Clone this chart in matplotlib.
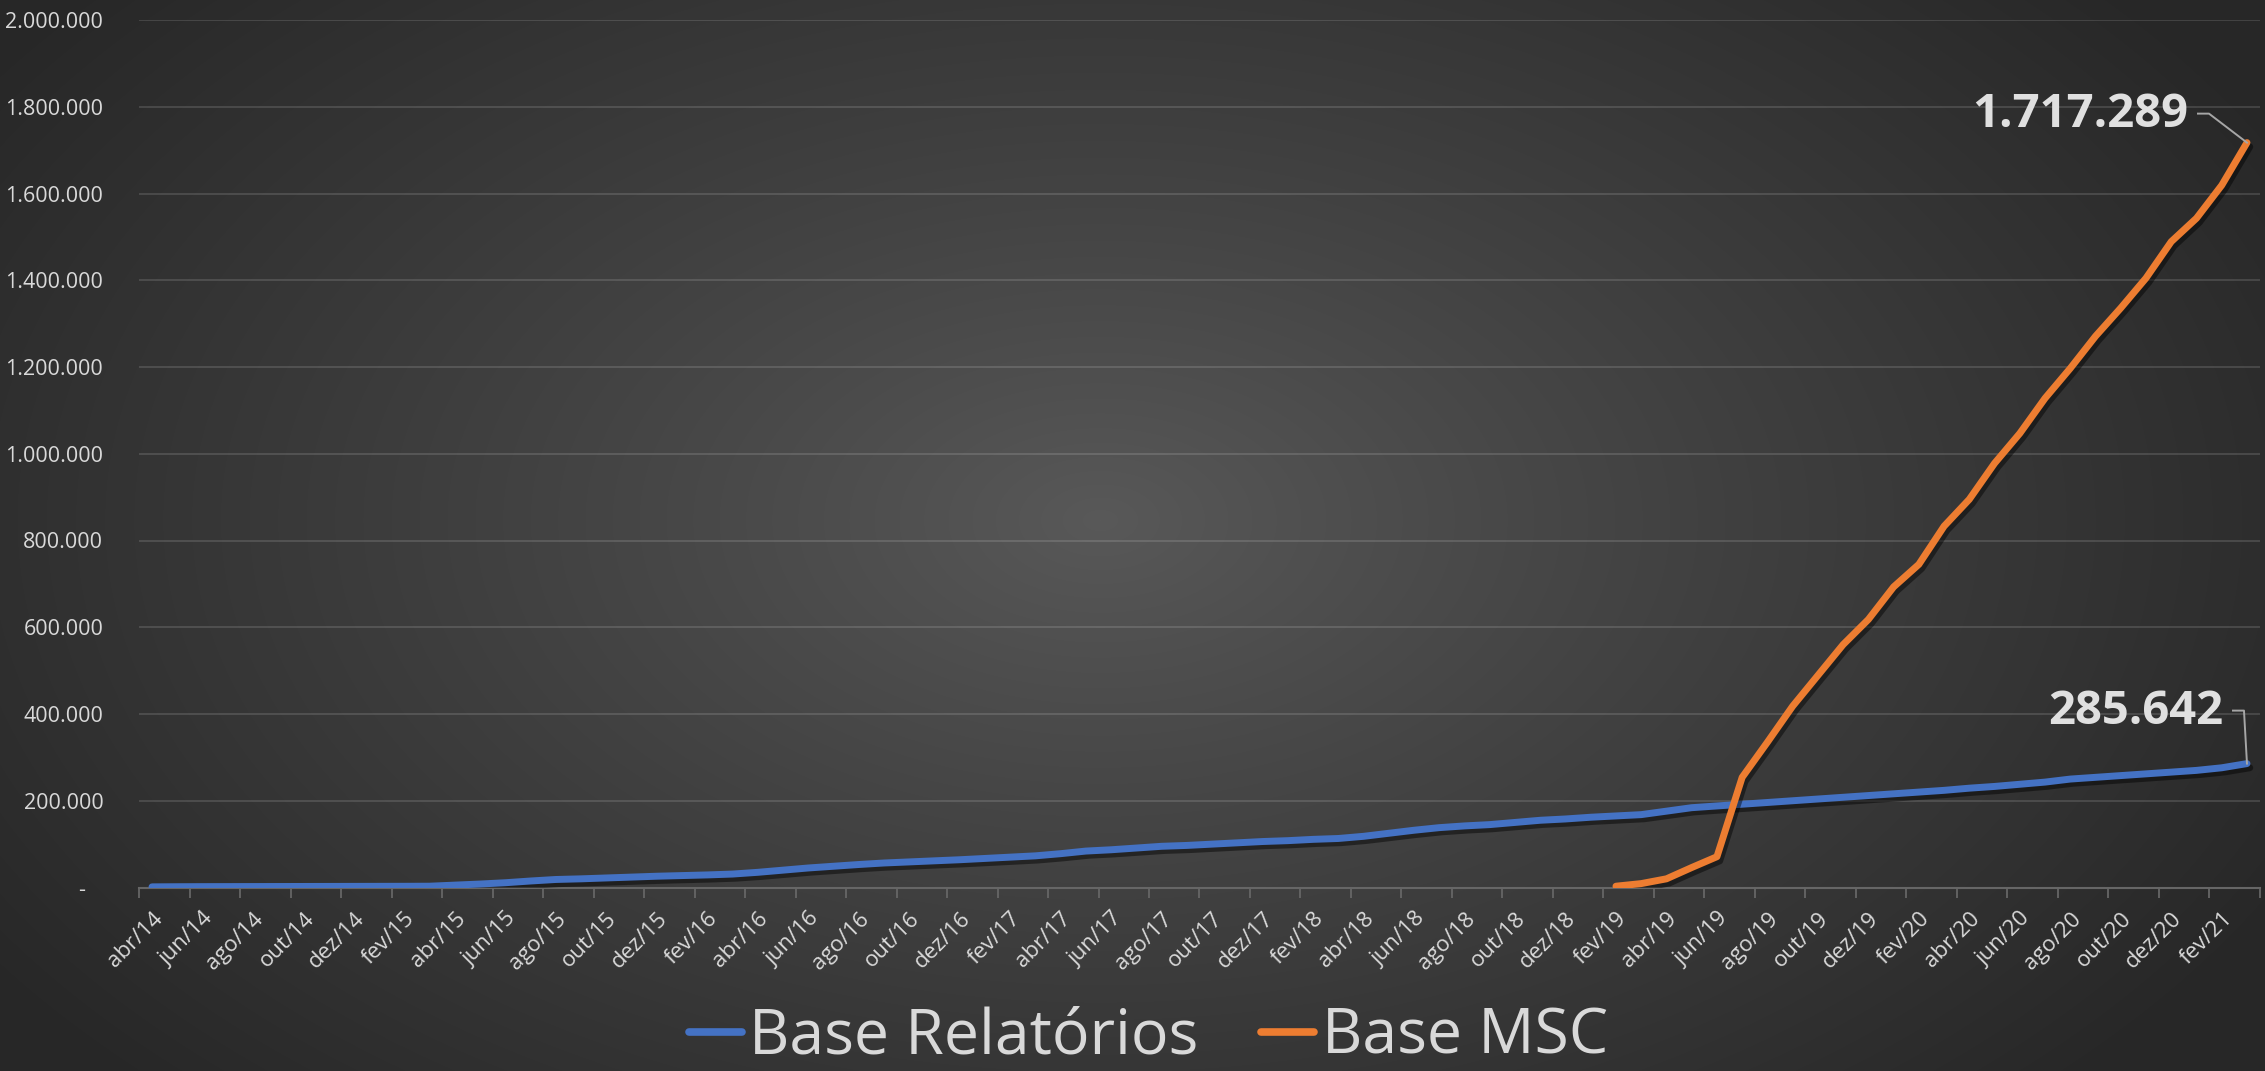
import numpy as np
import matplotlib
matplotlib.use("Agg")
import matplotlib.pyplot as plt
import matplotlib.patheffects as pe
from matplotlib.lines import Line2D
from matplotlib.transforms import IdentityTransform

plt.rcParams['font.family'] = ['Open Sans', 'DejaVu Sans']

# ---------------- data ----------------
month_names = ['jan', 'fev', 'mar', 'abr', 'mai', 'jun', 'jul', 'ago', 'set', 'out', 'nov', 'dez']
start_year, start_month = 2014, 4   # abr/14
n_months = 84                        # abr/14 .. mar/21
categories = []
for k in range(n_months):
    m = (start_month - 1 + k) % 12
    y = start_year + (start_month - 1 + k) // 12
    categories.append(f"{month_names[m]}/{str(y)[2:]}")

base_relatorios = [
    1500, 1800, 2000, 2100, 2200, 2300, 2400, 2500, 2600, 2700, 2800, 3000,
    5500, 8000, 11000, 15000, 18500, 20000, 22000, 24000, 26000, 27500, 29000, 31000,
    35000, 40000, 45000, 49000, 53000, 56500, 59000, 61500, 64000, 67000, 70000, 73000,
    78000, 84000, 87000, 91000, 95000, 97000, 100000, 103000, 106000, 108000, 111000, 113000,
    118000, 125000, 132000, 138000, 142000, 145000, 150000, 155000, 158000, 162000, 165000, 168000,
    176000, 184000, 188000, 192000, 196000, 200000, 204000, 208000, 212000, 216000, 220000, 224000,
    229000, 233000, 238000, 243000, 250000, 254000, 258000, 262000, 266000, 270000, 276000, 285642,
]

base_msc = [np.nan] * 58 + [
    3000, 9000, 20000, 46000, 71000, 254000, 335000, 418000, 489000, 560000, 618000, 693000,
    745000, 833000, 895000, 978000, 1047000, 1128000, 1197000, 1271000, 1336000, 1405000, 1489000, 1543000,
    1619000, 1717289,
]

series_names = ['Base Relatórios', 'Base MSC']
series_colors = ['#4472C4', '#ED7D31']
y_ticks = list(range(0, 2000001, 200000))

# ---------------- figure ----------------
W, H, DPI = 2265, 1071, 100
fig = plt.figure(figsize=(W / DPI, H / DPI), dpi=DPI, facecolor='#2b2b2b')

# radial gradient background
bg = fig.add_axes([0, 0, 1, 1], zorder=-10)
yy, xx = np.mgrid[0:H, 0:W]
cx, cy = 1100, 520
r = np.sqrt(((xx - cx) / 1350.0) ** 2 + ((yy - cy) / 820.0) ** 2)
r = np.clip(r, 0, 1)
c_in, c_out = 0x59 / 255, 0x27 / 255
img = c_in + (c_out - c_in) * r ** 0.9
bg.imshow(np.dstack([img, img, img]), aspect='auto', extent=[0, 1, 0, 1], origin='upper')
bg.set_axis_off()

ax = fig.add_axes([139.4 / W, 1 - 887.5 / H, (2259.6 - 139.4) / W, (887.5 - 20) / H])
ax.set_facecolor('none')

x = np.arange(n_months)
shadow = [pe.SimpleLineShadow(offset=(2, -3), shadow_color='black', alpha=0.45, rho=1), pe.Normal()]
vals_list = [base_relatorios, base_msc]
for vals, name, col in zip(vals_list, series_names, series_colors):
    ax.plot(x, vals, color=col, lw=5.0, solid_capstyle='round', solid_joinstyle='round',
            label=name, path_effects=shadow, zorder=3)

ax.set_xlim(-0.5, n_months - 0.5)
ax.set_ylim(0, 2000000)

# y axis
ax.set_yticks(y_ticks)
ax.set_yticklabels(['-   ' if v == 0 else f"{v:,}".replace(',', '.') for v in y_ticks])
ax.tick_params(axis='y', length=0, pad=26, labelsize=15.5, labelcolor='#d9d9d9')
ax.grid(axis='y', color='#ffffff', alpha=0.13, lw=1.5, zorder=0)

# x axis: tick marks between categories, labels every 2 months
ax.set_xticks(np.arange(-0.5, n_months, 2))
ax.set_xticklabels([])
ax.set_xticks(x[::2], minor=True)
ax.set_xticklabels(categories[::2], minor=True, rotation=45, ha='right',
                   rotation_mode='anchor')
ax.tick_params(axis='x', which='major', length=7, width=1.3, color='#666666', direction='out')
ax.tick_params(axis='x', which='minor', length=0, pad=15, labelsize=16, labelcolor='#d9d9d9')

for s in ['top', 'right', 'left']:
    ax.spines[s].set_visible(False)
ax.spines['bottom'].set_color('#666666')
ax.spines['bottom'].set_linewidth(1.5)

# ---------------- data labels with leader lines ----------------
fig.canvas.draw()
def label_last(vals, text_off, leader_offs):
    px, py = ax.transData.transform((n_months - 1, vals[-1]))
    lx = [px + d[0] for d in leader_offs]
    ly = [py + d[1] for d in leader_offs]
    fig.add_artist(Line2D(lx, ly, transform=IdentityTransform(), color='#a6a6a6', lw=1.4, zorder=5))
    txt = f"{vals[-1]:,}".replace(',', '.')
    fig.text(px + text_off[0], py + text_off[1], txt, transform=IdentityTransform(),
             ha='right', va='center', fontsize=34, fontweight='bold', color='#e0e0e0')

label_last(base_msc, (-59, 28), [(-49, 29), (-38, 29), (0, 0)])
label_last(base_relatorios, (-24, 52), [(-14, 53), (-3, 53), (0, 0)])

# ---------------- legend ----------------
handles = [Line2D([0], [0], color=c, lw=5.5, solid_capstyle='round') for c in series_colors]
fig.legend(handles, series_names, loc='lower center', bbox_to_anchor=(0.507, 0.002), ncol=2,
           frameon=False, fontsize=45, labelcolor='#d9d9d9', handlelength=0.85,
           handletextpad=0.12, columnspacing=1.0, borderaxespad=0, borderpad=0)

fig.savefig('out.png', dpi=DPI, facecolor=fig.get_facecolor())
